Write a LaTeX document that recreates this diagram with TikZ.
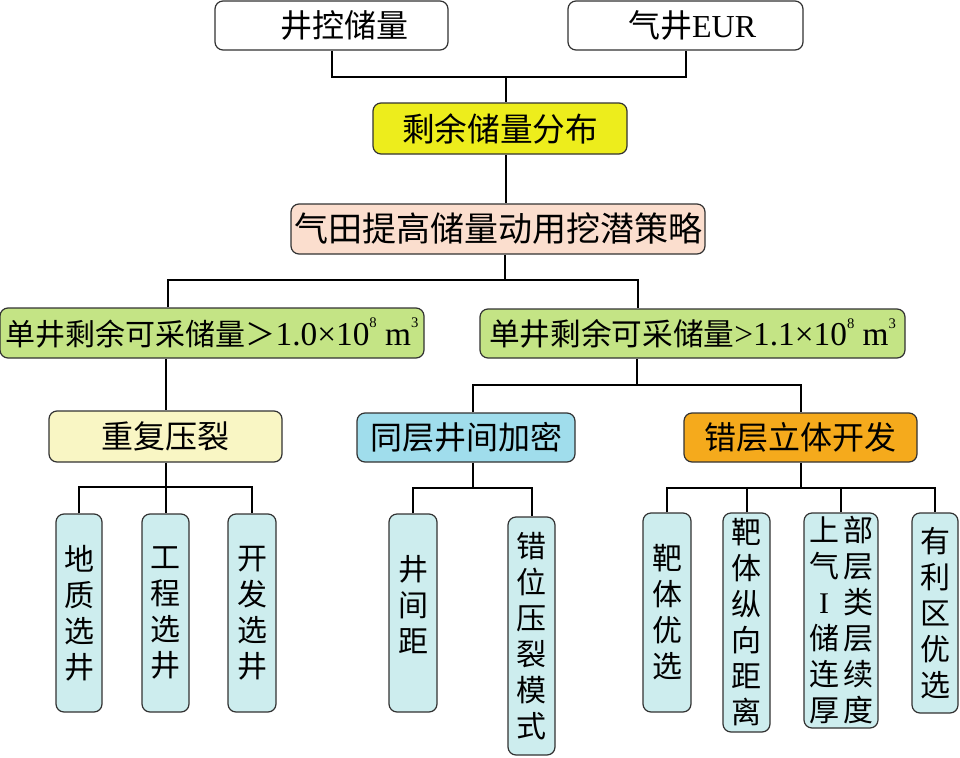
\documentclass[tikz,border=0pt]{standalone}
\usepackage{fontspec}
\setmainfont{Liberation Serif}
\newfontfamily\cjk{Noto Sans CJK SC}
\newfontfamily\lat{Liberation Serif}
\definecolor{yel}{RGB}{237,237,28}
\definecolor{peach}{RGB}{251,222,206}
\definecolor{grn}{RGB}{196,228,133}
\definecolor{lyel}{RGB}{249,246,196}
\definecolor{lblu}{RGB}{160,221,236}
\definecolor{org}{RGB}{245,170,28}
\definecolor{leafc}{RGB}{205,237,238}
\definecolor{bordc}{RGB}{50,50,50}
\newcommand{\supr}[1]{\raisebox{1.15ex}{\fontsize{11}{11}\selectfont #1}}
\begin{document}
\begin{tikzpicture}[x=0.75pt,y=-0.75pt,
  box/.style={draw=bordc, line width=0.9pt, rounded corners=6pt, inner sep=0pt, align=center},
  sz/.style 2 args={minimum width=#1*0.75pt, minimum height=#2*0.75pt},
  bigtxt/.style={font=\fontsize{24}{28}\selectfont\cjk},
  leaf/.style={box, fill=leafc, font=\fontsize{22.5}{27}\selectfont\cjk},
  leaftext/.style={inner sep=0pt, align=center, font=\fontsize{22.5}{27}\selectfont\cjk},
  conn/.style={line width=1.5pt, black}]
\useasboundingbox (0,0) rectangle (960,757);

% top level
\node[box, fill=white, sz={233}{49}, bigtxt] (A) at (331.5,25.5) {\hspace*{20pt}井控储量};
\node[box, fill=white, sz={235}{49}, bigtxt] (B) at (685.5,25.5) {\hspace*{10pt}气井{\lat EUR}};
\node[box, fill=yel, sz={254}{51}, font=\fontsize{24.5}{28}\selectfont\cjk] (C) at (500,128.5) {剩余储量分布};
\node[box, fill=peach, sz={414}{50}, font=\fontsize{25.5}{30}\selectfont\cjk] (D) at (498,229) {气田提高储量动用挖潜策略};

% second level
\node[box, fill=grn, sz={424}{50}, font=\fontsize{22.5}{26}\selectfont\cjk] (E) at (212,333)
  {单井剩余可采储量＞{\lat\fontsize{25}{26}\selectfont 1.0×10\supr{8} m\supr{3}}};
\node[box, fill=grn, sz={425}{49}, font=\fontsize{23}{26}\selectfont\cjk] (F) at (692.5,333.5)
  {单井剩余可采储量{\lat\fontsize{25}{26}\selectfont >1.1×10\supr{8} m\supr{3}}};

% third level
\node[box, fill=lyel, sz={233}{51}, bigtxt] (G) at (165.5,436.5) {重复压裂};
\node[box, fill=lblu, sz={218}{49}, bigtxt] (H) at (466,437.5) {同层井间加密};
\node[box, fill=org, sz={233}{49}, bigtxt] (I) at (800.5,437.5) {错层立体开发};

% leaves
\node[leaf, sz={46}{198}] (L1) at (79,613) {地\\质\\选\\井};
\node[leaf, sz={47}{198}] (L2) at (165.5,613) {工\\程\\选\\井};
\node[leaf, sz={48}{198}] (L3) at (252,613) {开\\发\\选\\井};
\node[leaf, sz={48}{198}] (L4) at (413,613) {};
\node[leaftext] (L4t) at (413,605) {井\\间\\距};
\node[leaf, sz={47}{238}] (L5) at (531.5,636) {错\\位\\压\\裂\\模\\式};
\node[leaf, sz={48}{199}] (L6) at (667,612.5) {靶\\体\\优\\选};
\node[leaf, sz={47}{219}] (L7) at (746.5,622.5) {靶\\体\\纵\\向\\距\\离};
\node[leaf, sz={74}{215}] (L8) at (841,620.5)
  {上\hspace{3pt}部\\气\hspace{3pt}层\\\makebox[1em]{\lat I}\hspace{3pt}类\\储\hspace{3pt}层\\连\hspace{3pt}续\\厚\hspace{3pt}度};
\node[leaf, sz={46}{200}] (L9) at (935,613) {有\\利\\区\\优\\选};

% connectors
\coordinate (j1) at (506,77);
\draw[conn] (A.south) |- (j1) -| (B.south);
\draw[conn] (j1) -- (j1 |- C.north);
\draw[conn] (j1 |- C.south) -- (j1 |- D.north);

\coordinate (j2) at (505,280);
\coordinate (e1) at (168,280);
\coordinate (f1) at (638,280);
\draw[conn] (j2 |- D.south) -- (j2);
\draw[conn] (e1 |- E.north) -- (e1) -- (f1) -- (f1 |- F.north);

\draw[conn] (G.north |- E.south) -- (G.north);

\coordinate (f2) at (637,385);
\coordinate (h1) at (473,385);
\coordinate (i1) at (800.5,385);
\draw[conn] (f2 |- F.south) -- (f2);
\draw[conn] (h1 |- H.north) -- (h1) -- (i1) -- (I.north);

\coordinate (g1) at (165.5,487);
\draw[conn] (G.south) -- (L2.north);
\draw[conn] (L1.north) |- (g1) -| (L3.north);

\coordinate (h2) at (473,488);
\draw[conn] (h1 |- H.south) -- (h2);
\draw[conn] (L4.north) |- (h2) -| (L5.north);

\coordinate (i2) at (800.5,488);
\draw[conn] (I.south) -- (i2);
\draw[conn] (L6.north) |- (i2) -| (L9.north);
\draw[conn] (L7.north) -- (L7.north |- i2);
\draw[conn] (L8.north) -- (L8.north |- i2);
\end{tikzpicture}
\end{document}
